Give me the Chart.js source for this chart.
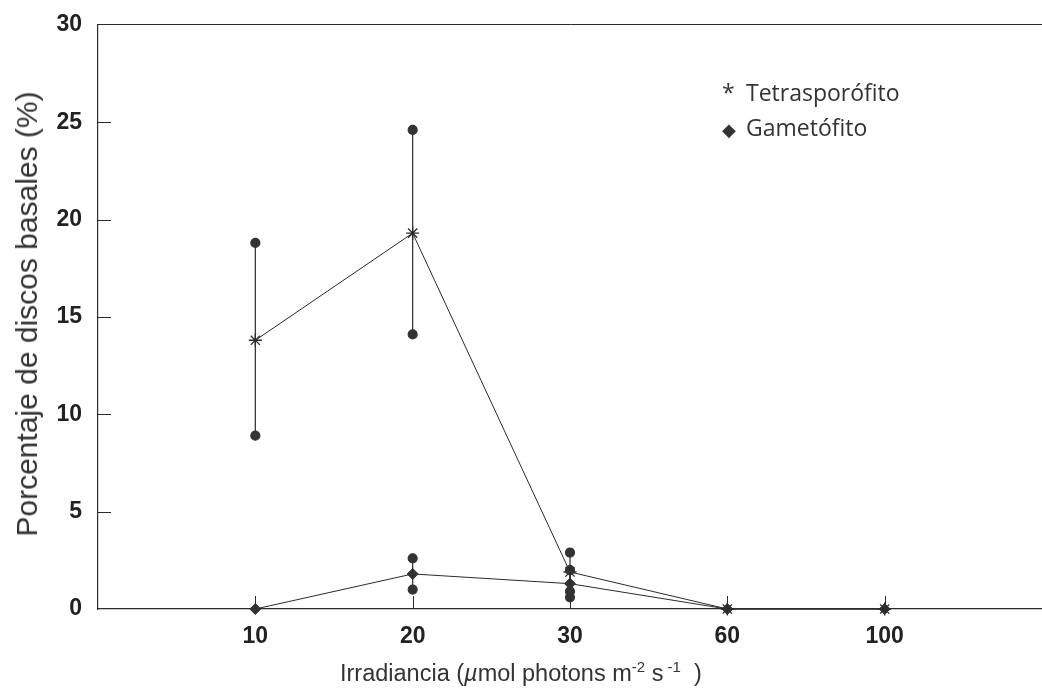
<!DOCTYPE html>
<html>
<head>
<meta charset="utf-8">
<script src="https://cdn.jsdelivr.net/npm/chart.js@4.4.0/dist/chart.umd.min.js"></script>
<style>
  html, body { margin: 0; padding: 0; background: #fff; overflow: hidden; }
  #wrap { position: relative; width: 1042px; height: 690px; overflow: hidden; }
  canvas { position: absolute; left: 0; top: -5px; }
  .legend { position: absolute; left: 722px; top: 75px; font-family: "Open Sans", sans-serif; font-size: 23px; color: #333; line-height: 35px; }
  .legend span.sym { display: inline-block; width: 24px; }
  .xtitle { position: absolute; left: 340px; top: 658px; font-family: "Liberation Sans", Arial, sans-serif; font-size: 23.5px; color: #333; white-space: nowrap; }
  .xtitle sup { font-size: 15px; }
  .ytitle { position: absolute; left: 27px; top: 314px; transform: translate(-50%, -50%) rotate(-90deg); font-family: "Liberation Sans", Arial, sans-serif; font-size: 30px; color: #333; white-space: nowrap; }
</style>
</head>
<body>
<div id="wrap">
  <canvas id="chart" width="1056" height="696"></canvas>
  <div class="legend">
    <div><span class="sym">*</span>Tetrasporófito</div>
    <div><span class="sym" style="font-size:18px">◆</span>Gametófito</div>
  </div>
  <div class="xtitle">Irradiancia (<i>µ</i>mol photons m<sup>-2</sup> s<sup> -1</sup>&nbsp;&nbsp;)</div>
  <div class="ytitle">Porcentaje de discos basales (%)</div>
</div>
<script>
// Irradiance categories (x axis)
const categories = ['10', '20', '30', '60', '100'];

// Tetrasporófito: mean and range
const tetraMean = [13.8, 19.3, 1.9, 0, 0];
const tetraHigh = [18.8, 24.6, 2.9, null, null];
const tetraLow = [8.9, 14.1, 0.9, null, null];

// Gametófito: mean and range
const gameMean = [0, 1.8, 1.3, 0, 0];
const gameHigh = [null, 2.6, 2.0, null, null];
const gameLow = [null, 1.0, 0.6, null, null];

const yTicks = [0, 5, 10, 15, 20, 25, 30];

const ink = '#2b2b2b';

function toPoints(values) {
    return values.map((v, i) => ({ x: i + 1, y: v }));
}

// one small line dataset per error bar, dots at both ends
function errorBars(low, high) {
    const sets = [];
    low.forEach((lo, i) => {
        if (lo === null) return;
        sets.push({
            data: [{ x: i + 1, y: lo }, { x: i + 1, y: high[i] }],
            borderColor: ink,
            borderWidth: 1.2,
            pointStyle: 'circle',
            pointRadius: 4.5,
            pointBackgroundColor: '#333',
            pointBorderColor: '#333',
            showLine: true,
            clip: false
        });
    });
    return sets;
}

const xLabels = [''].concat(categories).concat(['']);

// short tick marks pointing into the plot
const innerTicks = {
    id: 'innerTicks',
    afterDatasetsDraw(chart) {
        const { ctx, chartArea, scales } = chart;
        ctx.save();
        ctx.strokeStyle = ink;
        ctx.lineWidth = 1;
        ctx.beginPath();
        for (let i = 1; i <= categories.length; i++) {
            const x = Math.round(scales.x.getPixelForValue(i)) + 0.5;
            ctx.moveTo(x, chartArea.bottom);
            ctx.lineTo(x, chartArea.bottom - 13);
        }
        yTicks.slice(1, -1).forEach(v => {
            const y = Math.round(scales.y.getPixelForValue(v)) + 0.5;
            ctx.moveTo(chartArea.left, y);
            ctx.lineTo(chartArea.left + 13, y);
        });
        ctx.stroke();
        ctx.restore();
    }
};

new Chart(document.getElementById('chart'), {
    type: 'scatter',
    data: {
        datasets: [
            ...errorBars(tetraLow, tetraHigh),
            ...errorBars(gameLow, gameHigh),
            {
                label: 'Tetrasporófito',
                data: toPoints(tetraMean),
                showLine: true,
                borderColor: ink,
                borderWidth: 1,
                pointStyle: 'star',
                pointRadius: 6.5,
                pointBorderWidth: 1.3,
                pointBorderColor: ink,
                pointBackgroundColor: ink,
                clip: false
            },
            {
                label: 'Gametófito',
                data: toPoints(gameMean),
                showLine: true,
                borderColor: ink,
                borderWidth: 1,
                pointStyle: 'rectRot',
                pointRadius: 5.5,
                pointBorderColor: '#333',
                pointBackgroundColor: '#333',
                clip: false
            }
        ]
    },
    plugins: [innerTicks],
    options: {
        responsive: false,
        animation: false,
        layout: { padding: { top: 24, right: 0, left: 0, bottom: 0 } },
        plugins: {
            legend: { display: false },
            tooltip: { enabled: false }
        },
        scales: {
            x: {
                type: 'linear',
                min: 0,
                max: 6,
                afterBuildTicks: (scale) => {
                    scale.ticks = xLabels.map((_, i) => ({ value: i }));
                },
                afterFit: (scale) => { scale.height = 82; },
                border: { display: true, color: ink, width: 1.2 },
                grid: { drawOnChartArea: false, drawTicks: false },
                ticks: {
                    padding: 14,
                    color: '#222',
                    font: { family: 'Liberation Sans, Arial, sans-serif', size: 23, weight: 'bold' },
                    callback: (v) => xLabels[v]
                }
            },
            xTop: {
                type: 'linear',
                position: 'top',
                min: 0,
                max: 6,
                afterFit: (scale) => { scale.height = 0; },
                border: { display: true, color: ink, width: 1 },
                grid: { display: false },
                ticks: { display: false }
            },
            y: {
                min: 0,
                max: 30,
                afterBuildTicks: (scale) => {
                    scale.ticks = yTicks.map(v => ({ value: v }));
                },
                afterFit: (scale) => { scale.width = 98; },
                border: { display: true, color: ink, width: 1.2 },
                grid: { drawOnChartArea: false, drawTicks: false },
                ticks: {
                    padding: 16,
                    color: '#222',
                    font: { family: 'Liberation Sans, Arial, sans-serif', size: 23, weight: 'bold' }
                }
            }
        }
    }
});
</script>
</body>
</html>
